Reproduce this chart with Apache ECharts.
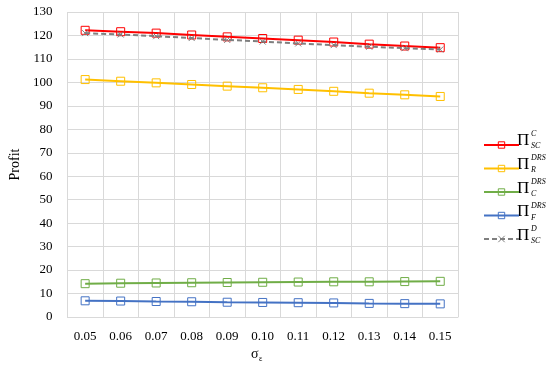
<!DOCTYPE html>
<html>
<head>
<meta charset="utf-8">
<script src="https://cdn.jsdelivr.net/npm/echarts@6/dist/echarts.min.js"></script>
<style>
    html, body { margin: 0; padding: 0; background: #fff; }
    #chart { width: 550px; height: 368px; }
</style>
</head>
<body>
<div id="chart"></div>
<script>
    // 横轴 sigma_epsilon
    var categories = ['0.05', '0.06', '0.07', '0.08', '0.09', '0.10', '0.11', '0.12', '0.13', '0.14', '0.15'];
    var piSCC = [122.2, 121.6, 121.0, 120.2, 119.4, 118.7, 118.0, 117.2, 116.3, 115.5, 114.8];
    var piRDRS = [101.2, 100.5, 99.8, 99.1, 98.4, 97.7, 97.0, 96.2, 95.4, 94.7, 94.0];
    var piCDRS = [14.2, 14.4, 14.5, 14.6, 14.7, 14.8, 14.9, 15.0, 15.0, 15.1, 15.2];
    var piFDRS = [6.9, 6.8, 6.6, 6.5, 6.3, 6.2, 6.1, 6.0, 5.8, 5.7, 5.6];
    var piSCD = [121.0, 120.4, 119.7, 118.9, 118.1, 117.4, 116.6, 115.9, 115.2, 114.6, 114.0];
    var yTicks = { min: 0, max: 130, interval: 10 };

    // 图例: 名称, 上标, 下标
    var legendItems = [
        ['SC-C', 'C', 'SC'],
        ['R-DRS', 'DRS', 'R'],
        ['C-DRS', 'DRS', 'C'],
        ['F-DRS', 'DRS', 'F'],
        ['SC-D', 'D', 'SC']
    ];

    var font = '"Liberation Serif", "DejaVu Serif", serif';
    var crossPath = 'path://M0,0L10,10M10,0L0,10';

    function lineSeries(name, data, color, dashed) {
        return {
            name: name,
            type: 'line',
            data: data,
            symbol: dashed ? crossPath : 'rect',
            symbolSize: dashed ? 6 : 8,
            showAllSymbol: true,
            lineStyle: { color: color, width: 2, type: dashed ? [5, 3] : 'solid' },
            itemStyle: { color: 'rgba(0,0,0,0)', borderColor: color, borderWidth: 1 },
            emphasis: { disabled: true },
            z: dashed ? 3 : 2
        };
    }

    var chart = echarts.init(document.getElementById('chart'));

    var graphics = [];
    var legendTop = 141, legendStep = 23.8;
    legendItems.forEach(function(it, i) {
        var cy = legendTop + i * legendStep;
        graphics.push({
            type: 'text', left: 517, top: cy - 9,
            style: { text: 'Π', font: '17px ' + font, fill: '#000' }
        });
        graphics.push({
            type: 'text', left: 531, top: cy - 11,
            style: { text: it[1], font: 'italic 8px ' + font, fill: '#000' }
        });
        graphics.push({
            type: 'text', left: 531, top: cy + 1,
            style: { text: it[2], font: 'italic 8px ' + font, fill: '#000' }
        });
    });
    graphics.push({
        type: 'text', left: 251, top: 347,
        style: { text: 'σ', font: '14px ' + font, fill: '#000' }
    });
    graphics.push({
        type: 'text', left: 259, top: 355,
        style: { text: 'ε', font: '8px ' + font, fill: '#000' }
    });

    var option = {
        backgroundColor: '#fff',
        animation: false,
        textStyle: { fontFamily: font },
        grid: { left: 57, right: 92, top: 12, bottom: 51, containLabel: false },
        legend: {
            orient: 'vertical',
            left: 478,
            top: legendTop - 5,
            itemWidth: 35,
            itemHeight: 8,
            itemGap: 15.8,
            itemStyle: { borderWidth: 1 },
            formatter: function() { return ''; },
            data: legendItems.map(function(it) { return it[0]; })
        },
        xAxis: {
            type: 'category',
            data: categories,
            boundaryGap: true,
            axisLine: { lineStyle: { color: '#d9d9d9' } },
            axisTick: { show: false },
            axisLabel: { color: '#000', fontSize: 13, fontFamily: font, margin: 13 },
            splitLine: { show: true, interval: 0, lineStyle: { color: '#d9d9d9' } }
        },
        yAxis: {
            type: 'value',
            min: yTicks.min,
            max: yTicks.max,
            interval: yTicks.interval,
            name: 'Profit',
            nameLocation: 'middle',
            nameGap: 40,
            nameTextStyle: { color: '#000', fontSize: 14, fontFamily: font },
            axisLine: { show: false },
            axisTick: { show: false },
            axisLabel: { color: '#000', fontSize: 13, fontFamily: font, margin: 15 },
            splitLine: { lineStyle: { color: '#d9d9d9' } }
        },
        graphic: graphics,
        series: [
            lineSeries('SC-C', piSCC, '#ff0000', false),
            lineSeries('R-DRS', piRDRS, '#ffc000', false),
            lineSeries('C-DRS', piCDRS, '#70ad47', false),
            lineSeries('F-DRS', piFDRS, '#4472c4', false),
            lineSeries('SC-D', piSCD, '#7f7f7f', true)
        ]
    };
    chart.setOption(option);
</script>
</body>
</html>
